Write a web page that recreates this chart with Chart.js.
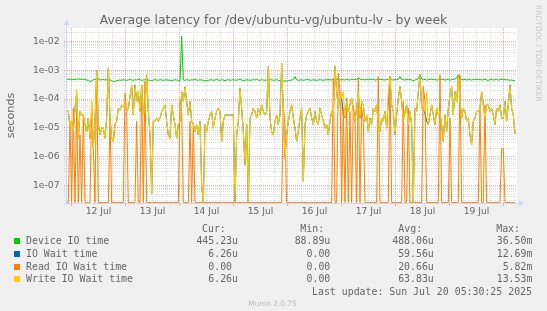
<!DOCTYPE html>
<html>
<head>
<meta charset="utf-8">
<title>Average latency for /dev/ubuntu-vg/ubuntu-lv - by week</title>
<script src="https://cdn.jsdelivr.net/npm/chart.js@4/dist/chart.umd.min.js"></script>
<style>
    body { margin: 0; background: #f0f0f0; }
    #wrap { position: relative; width: 547px; height: 311px; overflow: hidden; font-family: 'DejaVu Sans', sans-serif; color: #666; }
    #wrap canvas { position: absolute; left: 0; top: 0; }
    .t { position: absolute; white-space: pre; line-height: 12px; }
    .mono { font-family: 'DejaVu Sans Mono', monospace; font-size: 9.9px; }
</style>
</head>
<body>
<div id="wrap">
    <canvas id="chart" width="547" height="311"></canvas>
</div>
<script>
// hours since Sat 12 Jul 2025 00:00, one sample every ~44 min
const START_H = -2.15;
const STEP_H = 0.7407;

const dayLabels = ['12 Jul', '13 Jul', '14 Jul', '15 Jul', '16 Jul', '17 Jul', '18 Jul', '19 Jul'];
const yTickLabels = ['1e-07', '1e-06', '1e-05', '1e-04', '1e-03', '1e-02'];

const deviceIo = [
    4.9e-4, 4.8e-4, 5.0e-4, 4.8e-4, 4.9e-4, 4.7e-4, 4.9e-4, 5.0e-4, 4.8e-4, 4.9e-4,
    4.7e-4, 4.8e-4, 4.6e-4, 4.5e-4, 4.1e-4, 4.3e-4, 4.7e-4, 4.8e-4, 5.3e-4, 4.9e-4,
    4.6e-4, 4.7e-4, 4.8e-4, 4.6e-4, 4.7e-4, 4.8e-4, 4.6e-4, 4.4e-4, 4.1e-4, 4.2e-4,
    4.3e-4, 4.5e-4, 4.6e-4, 4.5e-4, 4.7e-4, 4.6e-4, 4.5e-4, 4.6e-4, 4.8e-4, 4.6e-4,
    4.5e-4, 4.7e-4, 4.6e-4, 4.8e-4, 4.7e-4, 4.5e-4, 4.6e-4, 4.7e-4, 4.8e-4, 4.6e-4,
    4.5e-4, 4.4e-4, 4.6e-4, 4.7e-4, 4.6e-4, 4.5e-4, 4.7e-4, 4.6e-4, 4.5e-4, 4.6e-4,
    4.7e-4, 4.5e-4, 4.6e-4, 4.4e-4, 4.5e-4, 4.7e-4, 4.6e-4, 4.5e-4, 4.2e-4, 1.5e-2,
    4.6e-4, 4.5e-4, 4.7e-4, 4.6e-4, 4.5e-4, 4.7e-4, 4.6e-4, 4.8e-4, 4.6e-4, 4.5e-4,
    4.7e-4, 4.6e-4, 4.5e-4, 4.3e-4, 4.4e-4, 4.5e-4, 4.6e-4, 4.7e-4, 4.5e-4, 4.6e-4,
    4.8e-4, 4.6e-4, 4.5e-4, 4.7e-4, 4.6e-4, 4.4e-4, 4.6e-4, 4.7e-4, 4.5e-4, 4.6e-4,
    4.7e-4, 4.6e-4, 4.5e-4, 4.7e-4, 4.8e-4, 4.6e-4, 4.4e-4, 4.5e-4, 4.7e-4, 4.6e-4,
    4.5e-4, 4.6e-4, 4.7e-4, 4.6e-4, 4.8e-4, 4.6e-4, 4.5e-4, 4.7e-4, 4.6e-4, 4.5e-4,
    4.6e-4, 4.8e-4, 4.6e-4, 4.7e-4, 4.5e-4, 4.6e-4, 4.7e-4, 4.5e-4, 4.4e-4, 4.2e-4,
    4.2e-4, 4.3e-4, 4.2e-4, 4.4e-4, 4.5e-4, 4.6e-4, 4.8e-4, 6.0e-4, 4.7e-4, 4.5e-4,
    4.6e-4, 4.7e-4, 4.5e-4, 4.6e-4, 4.8e-4, 4.7e-4, 4.6e-4, 4.5e-4, 4.7e-4, 4.6e-4,
    4.5e-4, 4.6e-4, 4.7e-4, 4.6e-4, 4.5e-4, 4.7e-4, 4.6e-4, 4.8e-4, 4.6e-4, 4.7e-4,
    4.8e-4, 5.6e-4, 4.9e-4, 4.7e-4, 4.6e-4, 4.8e-4, 4.7e-4, 4.6e-4, 4.8e-4, 4.7e-4,
    4.6e-4, 4.8e-4, 4.7e-4, 4.9e-4, 4.7e-4, 5.6e-4, 4.8e-4, 4.7e-4, 4.8e-4, 4.6e-4,
    4.8e-4, 4.7e-4, 4.9e-4, 4.7e-4, 4.8e-4, 4.6e-4, 4.7e-4, 4.9e-4, 4.7e-4, 4.8e-4,
    4.7e-4, 4.6e-4, 4.8e-4, 4.7e-4, 4.9e-4, 4.7e-4, 4.6e-4, 4.8e-4, 4.7e-4, 4.9e-4,
    6.0e-4, 4.8e-4, 4.7e-4, 4.6e-4, 4.8e-4, 4.7e-4, 4.8e-4, 4.6e-4, 4.4e-4, 4.6e-4,
    4.8e-4, 5.2e-4, 7.0e-4, 5.0e-4, 4.7e-4, 4.8e-4, 4.6e-4, 4.7e-4, 4.8e-4, 4.9e-4,
    4.7e-4, 4.8e-4, 4.6e-4, 4.7e-4, 4.9e-4, 4.7e-4, 4.8e-4, 4.6e-4, 4.7e-4, 4.8e-4,
    4.6e-4, 4.7e-4, 4.8e-4, 4.9e-4, 5.4e-4, 7.0e-4, 5.1e-4, 4.8e-4, 4.7e-4, 4.8e-4,
    4.6e-4, 4.8e-4, 4.7e-4, 4.6e-4, 4.8e-4, 4.7e-4, 4.9e-4, 4.7e-4, 4.8e-4, 4.6e-4,
    4.7e-4, 4.8e-4, 4.6e-4, 4.5e-4, 4.7e-4, 4.8e-4, 4.6e-4, 4.7e-4, 4.8e-4, 4.6e-4,
    4.7e-4, 4.9e-4, 4.7e-4, 4.8e-4, 4.6e-4, 4.7e-4, 4.5e-4, 4.6e-4, 4.4e-4, 4.45e-4,
];

const ioWait = [
    4.2e-5, 3.7e-5, 1.1e-5, 1.7e-5, 7.5e-6, 4.8e-5, 1.6e-4, 4.4e-6, 3.7e-5, 2.8e-5,
    2.8e-5, 1.3e-5, 7.5e-6, 2.2e-5, 4.4e-6, 3.5e-5, 2.0e-6, 1.7e-5, 9.1e-4, 1.3e-5,
    5.7e-6, 9.8e-6, 9.8e-6, 4.4e-6, 2.2e-5, 1.2e-3, 2.2e-5, 4.4e-6, 3.4e-6, 1.3e-5,
    1.7e-5, 4.8e-5, 4.2e-5, 6.3e-5, 5.5e-5, 7.2e-5, 3.7e-5, 4.8e-5, 1.2e-4, 3.1e-4,
    2.8e-5, 3.1e-4, 8.3e-5, 1.8e-4, 3.7e-5, 3.1e-4, 2.8e-5, 4.8e-5, 7.0e-4, 3.7e-5,
    5.7e-6, 5.4e-8, 1.7e-5, 1.7e-5, 2.2e-5, 1.7e-5, 2.2e-5, 3.7e-5, 4.8e-5, 6.3e-5,
    1.7e-5, 5.7e-6, 4.4e-6, 6.3e-5, 2.8e-5, 1.3e-5, 4.4e-6, 1.3e-5, 1.7e-5, 1.8e-4,
    8.3e-5, 2.7e-4, 8.3e-5, 2.8e-5, 8.3e-5, 1.7e-5, 1.3e-5, 7.5e-6, 1.3e-5, 5.7e-6,
    1.7e-5, 1.05e-7, 0, 1.3e-5, 7.5e-6, 1.7e-5, 2.8e-5, 3.7e-5, 9.8e-6, 2.2e-5,
    3.7e-5, 4.8e-5, 3.7e-5, 3.4e-6, 1.7e-5, 2.8e-5, 2.8e-5, 2.8e-5, 2.8e-5, 2.8e-5,
    2.8e-5, 0, 5.7e-6, 1.7e-5, 2.4e-4, 4.8e-5, 7.5e-6, 5.2e-7, 1.3e-5, 0,
    2.2e-5, 2.8e-5, 4.8e-5, 3.7e-5, 2.2e-5, 4.8e-5, 2.8e-5, 6.3e-5, 3.7e-5, 2.8e-5,
    3.7e-5, 1.35e-3, 2.2e-5, 7.5e-6, 5.7e-6, 1.7e-5, 2.8e-5, 1.3e-5, 2.8e-5, 1.75e-3,
    3.7e-5, 8.9e-7, 5.7e-6, 1.7e-5, 3.7e-5, 6.3e-5, 2.2e-5, 9.8e-6, 3.4e-6, 7.5e-6,
    2.2e-5, 4.8e-5, 1.4e-7, 1.3e-5, 2.8e-5, 3.7e-5, 4.8e-5, 2.2e-5, 1.3e-5, 3.7e-5,
    1.7e-5, 1.3e-5, 4.8e-5, 2.8e-5, 1.7e-5, 9.8e-6, 1.3e-5, 5.7e-6, 1.7e-5, 3.7e-5,
    2.8e-5, 1.35e-3, 1.8e-4, 4.8e-5, 1.8e-4, 1.1e-4, 2.8e-5, 2.2e-5, 8.3e-5, 3.7e-5,
    6.3e-5, 1.1e-4, 3.7e-5, 1.7e-5, 4.8e-5, 1.8e-4, 2.2e-5, 8.3e-5, 6.3e-5, 1.7e-5,
    2.8e-5, 7.5e-6, 2.2e-5, 1.3e-5, 4.8e-5, 3.7e-5, 6.3e-5, 1.3e-5, 7.5e-6, 2.2e-5,
    1.7e-5, 3.7e-5, 9.8e-6, 8.3e-5, 6.1e-4, 6.3e-5, 3.7e-5, 5.7e-6, 2.8e-5, 1.1e-4,
    2.7e-4, 8.3e-5, 1.7e-5, 3.7e-5, 6.3e-5, 1.3e-5, 3.7e-5, 1.3e-5, 0, 4.8e-5,
    3.7e-5, 1.8e-4, 7.0e-4, 4.8e-5, 4.8e-5, 3.2e-5, 1.7e-5, 1.3e-5, 2.8e-5, 6.3e-5,
    2.8e-5, 1.3e-5, 4.8e-5, 2.8e-5, 3.7e-5, 1.3e-5, 3.4e-6, 2.8e-5, 7.5e-6, 4.8e-5,
    1.4e-4, 2.7e-4, 2.8e-5, 1.8e-4, 8.3e-5, 6.1e-4, 8.3e-5, 2.2e-5, 4.8e-5, 3.7e-5,
    1.7e-5, 2.2e-5, 5.7e-6, 2.6e-6, 1.7e-5, 2.2e-5, 3.7e-5, 3.7e-5, 4.8e-5, 1.8e-4,
    6.3e-5, 2.2e-5, 6.3e-5, 6.3e-5, 3.7e-5, 4.8e-5, 2.8e-5, 1.3e-5, 4.8e-5, 3.7e-5,
    6.3e-5, 2.2e-5, 2.2e-5, 8.3e-5, 1.7e-5, 6.3e-5, 3.1e-4, 4.8e-5, 2.8e-5, 6.26e-6,
];

const readWait = [
    0, 0, 1.7e-5, 0, 4.8e-5, 0, 4.2e-5, 0, 5.7e-6, 0,
    2.8e-5, 0, 0, 0, 0, 8.3e-5, 2.0e-6, 0, 1.0e-3, 0,
    0, 0, 0, 0, 0, 0, 2.2e-5, 0, 0, 0,
    0, 0, 0, 0, 0, 1.6e-4, 3.7e-5, 0, 0, 0,
    0, 0, 1.7e-5, 0, 0, 3.1e-4, 0, 4.1e-4, 0, 0,
    0, 0, 0, 0, 0, 0, 0, 0, 0, 0,
    0, 0, 0, 0, 0, 0, 0, 0, 8.3e-5, 3.7e-5,
    0, 0, 0, 0, 1.7e-5, 0, 1.3e-5, 0, 0, 0,
    0, 0, 0, 0, 0, 0, 0, 0, 0, 0,
    0, 0, 0, 0, 0, 0, 0, 0, 0, 0,
    0, 0, 0, 0, 0, 0, 0, 0, 0, 0,
    0, 0, 0, 0, 0, 0, 0, 0, 0, 0,
    0, 0, 0, 0, 0, 0, 0, 0, 0, 0,
    6.3e-5, 1.3e-5, 0, 0, 0, 0, 0, 0, 0, 0,
    0, 0, 0, 0, 0, 0, 0, 0, 0, 0,
    0, 0, 0, 0, 0, 0, 0, 0, 0, 0,
    5.3e-4, 0, 0, 8.0e-4, 1.8e-4, 0, 4.8e-5, 0, 1.1e-4, 0,
    3.7e-5, 0, 6.3e-5, 2.2e-5, 0, 5.3e-4, 0, 4.8e-5, 1.7e-5, 0,
    0, 0, 0, 0, 0, 0, 0, 6.1e-4, 0, 0,
    0, 0, 0, 0, 6.1e-4, 0, 0, 0, 0, 0,
    0, 0, 8.3e-5, 0, 0, 4.8e-5, 0, 0, 0, 0,
    0, 0, 0, 0, 2.7e-4, 8.3e-5, 0, 0, 0, 0,
    0, 0, 0, 0, 7.0e-4, 0, 0, 0, 0, 0,
    2.2e-5, 0, 0, 0, 0, 0, 7.0e-4, 0, 0, 0,
    0, 0, 0, 0, 0, 0, 0, 0, 4.8e-5, 0,
    0, 6.3e-5, 0, 0, 0, 0, 0, 0, 0, 0,
    0, 1.9e-6, 1.9e-6, 0, 0, 0, 0, 0, 0, 0,
];

const writeWait = [
    4.2e-5, 3.7e-5, 1.1e-5, 1.7e-5, 7.5e-6, 4.8e-5, 2.1e-4, 4.4e-6, 3.7e-5, 2.8e-5,
    2.8e-5, 1.3e-5, 7.5e-6, 2.2e-5, 4.4e-6, 8.3e-5, 2.0e-6, 1.7e-5, 9.1e-4, 1.3e-5,
    5.7e-6, 9.8e-6, 9.8e-6, 4.4e-6, 2.2e-5, 1.2e-3, 2.2e-5, 4.4e-6, 3.4e-6, 1.3e-5,
    1.7e-5, 4.8e-5, 4.2e-5, 6.3e-5, 5.5e-5, 7.2e-5, 3.7e-5, 4.8e-5, 1.2e-4, 3.1e-4,
    2.8e-5, 3.1e-4, 8.3e-5, 1.8e-4, 3.7e-5, 3.1e-4, 2.8e-5, 4.8e-5, 7.0e-4, 3.7e-5,
    5.7e-6, 5.4e-8, 1.7e-5, 1.7e-5, 2.2e-5, 1.7e-5, 2.2e-5, 3.7e-5, 4.8e-5, 6.3e-5,
    1.7e-5, 5.7e-6, 4.4e-6, 6.3e-5, 2.8e-5, 1.3e-5, 4.4e-6, 1.3e-5, 1.7e-5, 1.8e-4,
    8.3e-5, 2.7e-4, 8.3e-5, 2.8e-5, 8.3e-5, 1.7e-5, 1.3e-5, 7.5e-6, 1.3e-5, 5.7e-6,
    1.7e-5, 1.05e-7, 0, 1.3e-5, 7.5e-6, 1.7e-5, 2.8e-5, 3.7e-5, 9.8e-6, 2.2e-5,
    3.7e-5, 4.8e-5, 3.7e-5, 3.4e-6, 1.7e-5, 2.8e-5, 2.8e-5, 2.8e-5, 2.8e-5, 2.8e-5,
    2.8e-5, 0, 5.7e-6, 1.7e-5, 2.4e-4, 4.8e-5, 7.5e-6, 5.2e-7, 1.3e-5, 0,
    2.2e-5, 2.8e-5, 4.8e-5, 3.7e-5, 2.2e-5, 4.8e-5, 2.8e-5, 6.3e-5, 3.7e-5, 2.8e-5,
    3.7e-5, 1.35e-3, 2.2e-5, 7.5e-6, 5.7e-6, 1.7e-5, 2.8e-5, 1.3e-5, 2.8e-5, 1.75e-3,
    3.7e-5, 8.9e-7, 5.7e-6, 1.7e-5, 3.7e-5, 6.3e-5, 2.2e-5, 9.8e-6, 3.4e-6, 7.5e-6,
    2.2e-5, 4.8e-5, 1.4e-7, 1.3e-5, 2.8e-5, 3.7e-5, 4.8e-5, 2.2e-5, 1.3e-5, 3.7e-5,
    1.7e-5, 1.3e-5, 4.8e-5, 2.8e-5, 1.7e-5, 9.8e-6, 1.3e-5, 5.7e-6, 1.7e-5, 3.7e-5,
    2.8e-5, 1.55e-3, 1.8e-4, 4.8e-5, 1.8e-4, 1.1e-4, 1.8e-4, 2.2e-5, 8.3e-5, 3.7e-5,
    6.3e-5, 1.1e-4, 3.7e-5, 1.7e-5, 4.8e-5, 1.8e-4, 2.2e-5, 8.3e-5, 6.3e-5, 1.7e-5,
    2.8e-5, 7.5e-6, 2.2e-5, 1.3e-5, 4.8e-5, 3.7e-5, 6.3e-5, 1.3e-5, 7.5e-6, 2.2e-5,
    1.7e-5, 3.7e-5, 9.8e-6, 1.8e-4, 6.1e-4, 6.3e-5, 3.7e-5, 5.7e-6, 2.8e-5, 1.1e-4,
    2.7e-4, 8.3e-5, 1.7e-5, 3.7e-5, 6.3e-5, 1.3e-5, 3.7e-5, 1.3e-5, 0, 4.8e-5,
    3.7e-5, 1.8e-4, 7.0e-4, 4.8e-5, 4.8e-5, 3.7e-5, 1.8e-4, 1.3e-5, 2.8e-5, 6.3e-5,
    2.8e-5, 1.3e-5, 4.8e-5, 2.8e-5, 3.7e-5, 1.3e-5, 3.4e-6, 2.8e-5, 7.5e-6, 4.8e-5,
    1.4e-4, 2.7e-4, 2.8e-5, 1.8e-4, 8.3e-5, 6.1e-4, 8.3e-5, 2.2e-5, 4.8e-5, 3.7e-5,
    1.7e-5, 2.2e-5, 5.7e-6, 2.6e-6, 1.7e-5, 2.2e-5, 3.7e-5, 3.7e-5, 4.8e-5, 1.8e-4,
    6.3e-5, 2.2e-5, 6.3e-5, 6.3e-5, 3.7e-5, 4.8e-5, 2.8e-5, 1.3e-5, 4.8e-5, 3.7e-5,
    6.3e-5, 2.2e-5, 2.2e-5, 8.3e-5, 1.7e-5, 6.3e-5, 3.1e-4, 4.8e-5, 2.8e-5, 6.26e-6,
];

const legendNames = ['Device IO time', 'IO Wait time', 'Read IO Wait time', 'Write IO Wait time'];
const legendColors = ['#00cc00', '#0066b3', '#ff8000', '#ffcc00'];
const curValues = ['445.23u', '6.26u', '0.00 ', '6.26u'];
const minValues = ['88.89u', '0.00', '0.00', '0.00'];
const avgValues = ['488.06u', '59.56u', '20.66u', '63.83u'];
const maxValues = ['36.50m', '12.69m', '5.82m', '13.53m'];

// axis range (hours / seconds)
const X_MIN = -2.0;
const X_MAX = 198.0;
const Y_MIN = 2.47e-8;
const Y_MAX = 2.94e-2;
const Y_FLOOR = 2.57e-8; // rrdtool puts 0 on the floor of a log axis

const MAJOR = 'rgba(220,60,60,0.42)';
const MINOR = 'rgba(140,140,140,0.28)';
const AXIS = '#cfd6f8';
const FONT = 'DejaVu Sans';

const times = writeWait.map((_, i) => START_H + i * STEP_H);
const toPoints = (arr) => arr.map((v, i) => ({ x: times[i], y: v > 0 ? v : Y_FLOOR }));

const gridHours = [];
for (let h = 0; h <= 192; h += 6) gridHours.push(h);

const yGrid = [];
for (let e = -8; e <= -2; e++) {
    for (let m = 1; m <= 9; m++) {
        const v = m * Math.pow(10, e);
        if (v >= Y_MIN && v <= Y_MAX) yGrid.push({ value: v, major: m === 1 });
    }
}

const munFrame = {
    id: 'munFrame',
    beforeDraw(chart) {
        const { ctx, chartArea: a } = chart;
        ctx.save();
        ctx.fillStyle = '#ffffff';
        ctx.fillRect(a.left, a.top, a.right - a.left, a.bottom - a.top);
        ctx.restore();
    },
    afterDatasetsDraw(chart) {
        const { ctx, chartArea: a } = chart;
        ctx.save();
        ctx.strokeStyle = AXIS;
        ctx.fillStyle = AXIS;
        ctx.lineWidth = 1;
        ctx.beginPath();
        ctx.moveTo(a.left - 0.5, a.bottom + 3);
        ctx.lineTo(a.left - 0.5, a.top - 4);
        ctx.moveTo(a.left - 4, a.bottom + 0.5);
        ctx.lineTo(a.right + 3, a.bottom + 0.5);
        ctx.stroke();
        ctx.beginPath();
        ctx.moveTo(a.left - 3.5, a.top - 3);
        ctx.lineTo(a.left + 2.5, a.top - 3);
        ctx.lineTo(a.left - 0.5, a.top - 8);
        ctx.closePath();
        ctx.fill();
        ctx.beginPath();
        ctx.moveTo(a.right + 2, a.bottom - 2.5);
        ctx.lineTo(a.right + 2, a.bottom + 3.5);
        ctx.lineTo(a.right + 7, a.bottom + 0.5);
        ctx.closePath();
        ctx.fill();
        ctx.restore();
    },
};

const line = (label, data, color, order, width) => ({
    label,
    data: toPoints(data),
    borderColor: color,
    borderWidth: width || 1,
    borderJoinStyle: 'round',
    pointRadius: 0,
    tension: 0,
    fill: false,
    order,
});

new Chart(document.getElementById('chart'), {
    type: 'line',
    data: {
        datasets: [
            line('Write IO Wait time', writeWait, '#ffcc00', 0, 1.1),
            line('Read IO Wait time', readWait, '#ff8000', 1),
            line('IO Wait time', ioWait, '#0066b3', 2),
            line('Device IO time', deviceIo, '#00cc00', 3),
        ],
    },
    options: {
        responsive: false,
        animation: false,
        devicePixelRatio: 1,
        layout: { padding: { top: 28, right: 30, bottom: 88, left: 0 } },
        plugins: { legend: { display: false }, tooltip: { enabled: false } },
        scales: {
            x: {
                type: 'linear',
                min: X_MIN,
                max: X_MAX,
                afterBuildTicks: (s) => { s.ticks = gridHours.map((h) => ({ value: h })); },
                afterFit: (s) => { s.height = 20; },
                grid: {
                    color: (c) => (c.tick && c.tick.value % 24 === 0 ? MAJOR : MINOR),
                    tickColor: (c) => (c.tick && c.tick.value % 24 === 0 ? MAJOR : 'transparent'),
                    tickLength: 3,
                },
                border: { display: false, dash: [1, 1] },
                ticks: {
                    autoSkip: false,
                    maxRotation: 0,
                    padding: 0.5,
                    color: '#666',
                    font: { family: FONT, size: 9.2 },
                    callback: (v) => ((v - 12) % 24 === 0 ? dayLabels[(v - 12) / 24] : ''),
                },
            },
            y: {
                type: 'logarithmic',
                min: Y_MIN,
                max: Y_MAX,
                afterBuildTicks: (s) => { s.ticks = yGrid.map((t) => ({ ...t })); },
                afterFit: (s) => { s.width = 67; },
                grid: {
                    color: (c) => (c.tick && c.tick.major ? MAJOR : MINOR),
                    tickColor: (c) => (c.tick && c.tick.major ? MAJOR : MINOR),
                    tickLength: 3,
                    tickBorderDash: [1, 1],
                },
                border: { display: false, dash: [1, 1] },
                ticks: {
                    autoSkip: false,
                    padding: 4.5,
                    color: '#666',
                    font: { family: FONT, size: 9.2 },
                    callback: (v, i, ticks) => (ticks[i].major ? yTickLabels[Math.round(Math.log10(v)) + 7] : ''),
                },
                title: {
                    display: true,
                    text: 'seconds',
                    color: '#666',
                    font: { family: FONT, size: 11.2 },
                    padding: { top: 4.5, bottom: 0 },
                },
            },
        },
    },
    plugins: [munFrame],
});

// texts around the graph
const wrap = document.getElementById('wrap');
const addText = (text, css, cls) => {
    const d = document.createElement('div');
    d.className = 't ' + (cls || '');
    d.textContent = text;
    Object.assign(d.style, css);
    wrap.appendChild(d);
    return d;
};

addText('Average latency for /dev/ubuntu-vg/ubuntu-lv - by week', {
    left: '0px', width: '547px', top: '13px', textAlign: 'center', fontSize: '12.4px', lineHeight: '14px',
});
addText('RRDTOOL / TOBI OETIKER', {
    left: '534px', top: '5px', writingMode: 'vertical-rl', fontSize: '7.5px', lineHeight: '8px', color: '#c8c8c8',
});

addText('Cur:', { left: '202px', top: '223px' }, 'mono');
addText('Min:', { left: '300.3px', top: '223px' }, 'mono');
addText('Avg:', { left: '398.3px', top: '223px' }, 'mono');
addText('Max:', { left: '496.2px', top: '223px' }, 'mono');

const rowY = [241.3, 254.2, 266.8, 279.3];
legendNames.forEach((name, i) => {
    const top = rowY[i] - 6;
    const box = document.createElement('div');
    Object.assign(box.style, {
        position: 'absolute', left: '13.5px', top: (rowY[i] - 3) + 'px', width: '6px', height: '6px', background: legendColors[i],
    });
    wrap.appendChild(box);
    addText(name, { left: '26px', top: top + 'px' }, 'mono');
    addText(curValues[i], { right: (547 - 238) + 'px', top: top + 'px', textAlign: 'right' }, 'mono');
    addText(minValues[i], { right: (547 - 330.3) + 'px', top: top + 'px', textAlign: 'right' }, 'mono');
    addText(avgValues[i], { right: (547 - 433.8) + 'px', top: top + 'px', textAlign: 'right' }, 'mono');
    addText(maxValues[i], { right: (547 - 532.4) + 'px', top: top + 'px', textAlign: 'right' }, 'mono');
});

addText('Last update: Sun Jul 20 05:30:25 2025', { right: '15px', top: '285.5px', textAlign: 'right' }, 'mono');
addText('Munin 2.0.75', {
    left: '0px', width: '545px', top: '299px', textAlign: 'center', fontSize: '7.4px', lineHeight: '10px', color: '#bbb',
});
</script>
</body>
</html>
